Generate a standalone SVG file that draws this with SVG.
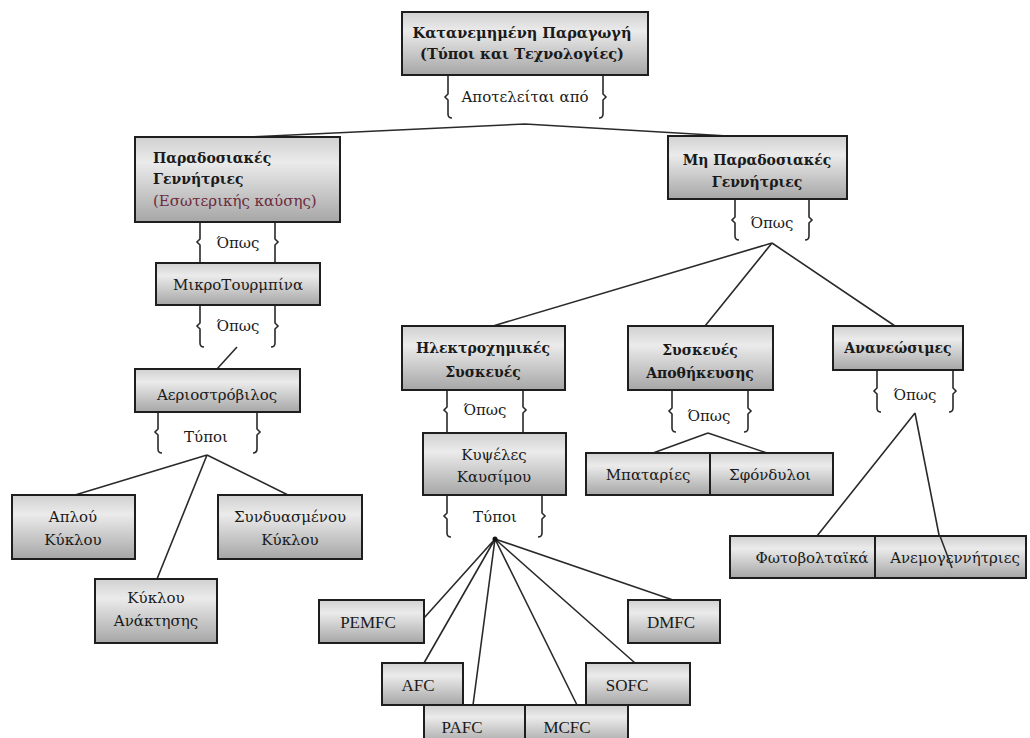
<svg xmlns="http://www.w3.org/2000/svg" width="1030" height="738" viewBox="0 0 1030 738">
<defs>
<linearGradient id="g" x1="0" y1="0" x2="0" y2="1">
<stop offset="0" stop-color="#d0d0d0"/>
<stop offset="0.3" stop-color="#ebebeb"/>
<stop offset="1" stop-color="#a6a6a6"/>
</linearGradient>
</defs>
<style>
.box{fill:url(#g);stroke:#1e1e1e;stroke-width:2}
.ln{stroke:#2a2a2a;stroke-width:1.6;fill:none}
.br{stroke:#2a2a2a;stroke-width:1.6;fill:none}
text{font-family:"DejaVu Serif","Liberation Serif",serif;font-size:15px;fill:#1a1a1a;text-anchor:middle}
.b{font-weight:bold;font-size:14px}
.l{text-anchor:start}
.red{fill:#6e2a3c}
.m{font-size:14.5px}
.lat{font-family:"Liberation Serif",serif;font-size:17px}
</style>
<rect width="1030" height="738" fill="#ffffff"/>
<g id="connectors">
<path class="ln" d="M525,124 L250,137 M525,124 L728,136"/>
<path class="ln" d="M237,347 L217,369"/>
<path class="ln" d="M207,455 L75,495 M207,455 L288,495 M207,455 L157,579"/>
<path class="ln" d="M772,243 L493,326 M772,243 L705,326 M772,243 L895,326"/>
<path class="ln" d="M708,433 L653,453 M708,433 L767,453"/>
<path class="ln" d="M915,413 L817,536 M915,413 L940,540"/>
<path class="ln" d="M495,539 L424,618 M495,539 L424,663 M495,539 L473,705 M495,539 L577,705 M495,539 L635,663 M495,539 L673,600"/>
<circle cx="495" cy="539" r="2.5" fill="#111"/>
<path class="br" d="M448,76 V94 l-3,3 l3,3 V114 q0,4 4,4 M603,76 V94 l3,3 l-3,3 V114 q0,4 -4,4"/>
<path class="br" d="M200,222 V239 l-3,3 l3,3 V263 M275,222 V239 l3,3 l-3,3 V263"/>
<path class="br" d="M200,305 V323 l-3,3 l3,3 V343 q0,4 4,4 M275,305 V323 l3,3 l-3,3 V343 q0,4 -4,4"/>
<path class="br" d="M158,412 V429 l-3,3 l3,3 V449 q0,4 4,4 M257,412 V429 l3,3 l-3,3 V449 q0,4 -4,4"/>
<path class="br" d="M447,390 V407 l-3,3 l3,3 V433 M523,390 V407 l3,3 l-3,3 V433"/>
<path class="br" d="M447,495 V513 l-3,3 l3,3 V533 q0,4 4,4 M542,495 V513 l3,3 l-3,3 V533 q0,4 -4,4"/>
<path class="br" d="M672,390 V408 l-3,3 l3,3 V428 q0,4 4,4 M748,390 V408 l3,3 l-3,3 V428 q0,4 -4,4"/>
<path class="br" d="M877,370 V388 l-3,3 l3,3 V408 q0,4 4,4 M953,370 V388 l3,3 l-3,3 V408 q0,4 -4,4"/>
<path class="br" d="M735,199 V217 l-3,3 l3,3 V236 q0,4 4,4 M809,199 V217 l3,3 l-3,3 V236 q0,4 -4,4"/>
</g>
<g id="labels">
<text x="525" y="102">Αποτελείται από</text>
<text x="238" y="248">Όπως</text>
<text x="238" y="331">Όπως</text>
<text x="206" y="442">Τύποι</text>
<text x="485" y="415">Όπως</text>
<text x="495" y="522">Τύποι</text>
<text x="709" y="421">Όπως</text>
<text x="915" y="400">Όπως</text>
<text x="772" y="228">Όπως</text>
</g>
<g id="n-top"><rect class="box" x="402" y="12" width="246" height="63"/>
<text class="b m" x="522" y="38">Κατανεμημένη Παραγωγή</text>
<text class="b m" x="522" y="59">(Τύποι και Τεχνολογίες)</text></g>
<g id="n-parad"><rect class="box" x="135" y="137" width="205" height="85"/>
<text class="b l" x="153" y="163">Παραδοσιακές</text>
<text class="b l" x="153" y="184">Γεννήτριες</text>
<text class="l red" x="153" y="206">(Εσωτερικής καύσης)</text></g>
<g id="n-miparad"><rect class="box" x="668" y="136" width="179" height="63"/>
<text class="b" x="757" y="165">Μη Παραδοσιακές</text>
<text class="b" x="757" y="187">Γεννήτριες</text></g>
<g id="n-mikro"><rect class="box" x="156" y="263" width="164" height="42"/>
<text x="238" y="290">ΜικροΤουρμπίνα</text></g>
<g id="n-aerio"><rect class="box" x="135" y="369" width="165" height="43"/>
<text x="217" y="400">Αεριοστρόβιλος</text></g>
<g id="n-aplou"><rect class="box" x="12" y="495" width="123" height="64"/>
<text x="73" y="522">Απλού</text><text x="73" y="545">Κύκλου</text></g>
<g id="n-syndy"><rect class="box" x="218" y="495" width="144" height="64"/>
<text x="290" y="522">Συνδυασμένου</text><text x="290" y="545">Κύκλου</text></g>
<g id="n-anakt"><rect class="box" x="95" y="579" width="122" height="64"/>
<text x="156" y="603">Κύκλου</text><text x="156" y="626">Ανάκτησης</text></g>
<g id="n-ilektro"><rect class="box" x="402" y="326" width="163" height="64"/>
<text class="b" x="483" y="353">Ηλεκτροχημικές</text><text class="b" x="483" y="377">Συσκευές</text></g>
<g id="n-kypseles"><rect class="box" x="423" y="433" width="143" height="62"/>
<text x="494" y="460">Κυψέλες</text><text x="494" y="482">Καυσίμου</text></g>
<g id="n-syskeves"><rect class="box" x="628" y="326" width="145" height="64"/>
<text class="b" x="700" y="355">Συσκευές</text><text class="b" x="700" y="378">Αποθήκευσης</text></g>
<g id="n-ananeos"><rect class="box" x="833" y="326" width="130" height="44"/>
<text class="b" x="898" y="353">Ανανεώσιμες</text></g>
<g id="n-mpat"><rect class="box" x="586" y="453" width="124" height="42"/>
<text x="648" y="480">Μπαταρίες</text></g>
<g id="n-sfond"><rect class="box" x="710" y="453" width="123" height="42"/>
<text x="770" y="480">Σφόνδυλοι</text></g>
<g id="n-foto"><rect class="box" x="730" y="536" width="145" height="42"/>
<text x="812" y="563">Φωτοβολταϊκά</text></g>
<g id="n-anemo"><rect class="box" x="875" y="536" width="151" height="42"/>
<text x="955" y="563">Ανεμογεννήτριες</text></g>
<g id="n-pemfc"><rect class="box" x="319" y="600" width="105" height="43"/>
<text class="lat" x="368" y="628">PEMFC</text></g>
<g id="n-dmfc"><rect class="box" x="628" y="600" width="92" height="43"/>
<text class="lat" x="671" y="628">DMFC</text></g>
<g id="n-afc"><rect class="box" x="382" y="663" width="81" height="42"/>
<text class="lat" x="418" y="691">AFC</text></g>
<g id="n-sofc"><rect class="box" x="586" y="663" width="104" height="42"/>
<text class="lat" x="627" y="691">SOFC</text></g>
<g id="n-pafc"><rect class="box" x="424" y="705" width="101" height="40"/>
<text class="lat" x="462" y="733">PAFC</text></g>
<g id="n-mcfc"><rect class="box" x="525" y="705" width="103" height="40"/>
<text class="lat" x="567" y="733">MCFC</text></g>
<g id="connectors-over"><path class="ln" d="M940,536 L952,568"/></g>
</svg>
